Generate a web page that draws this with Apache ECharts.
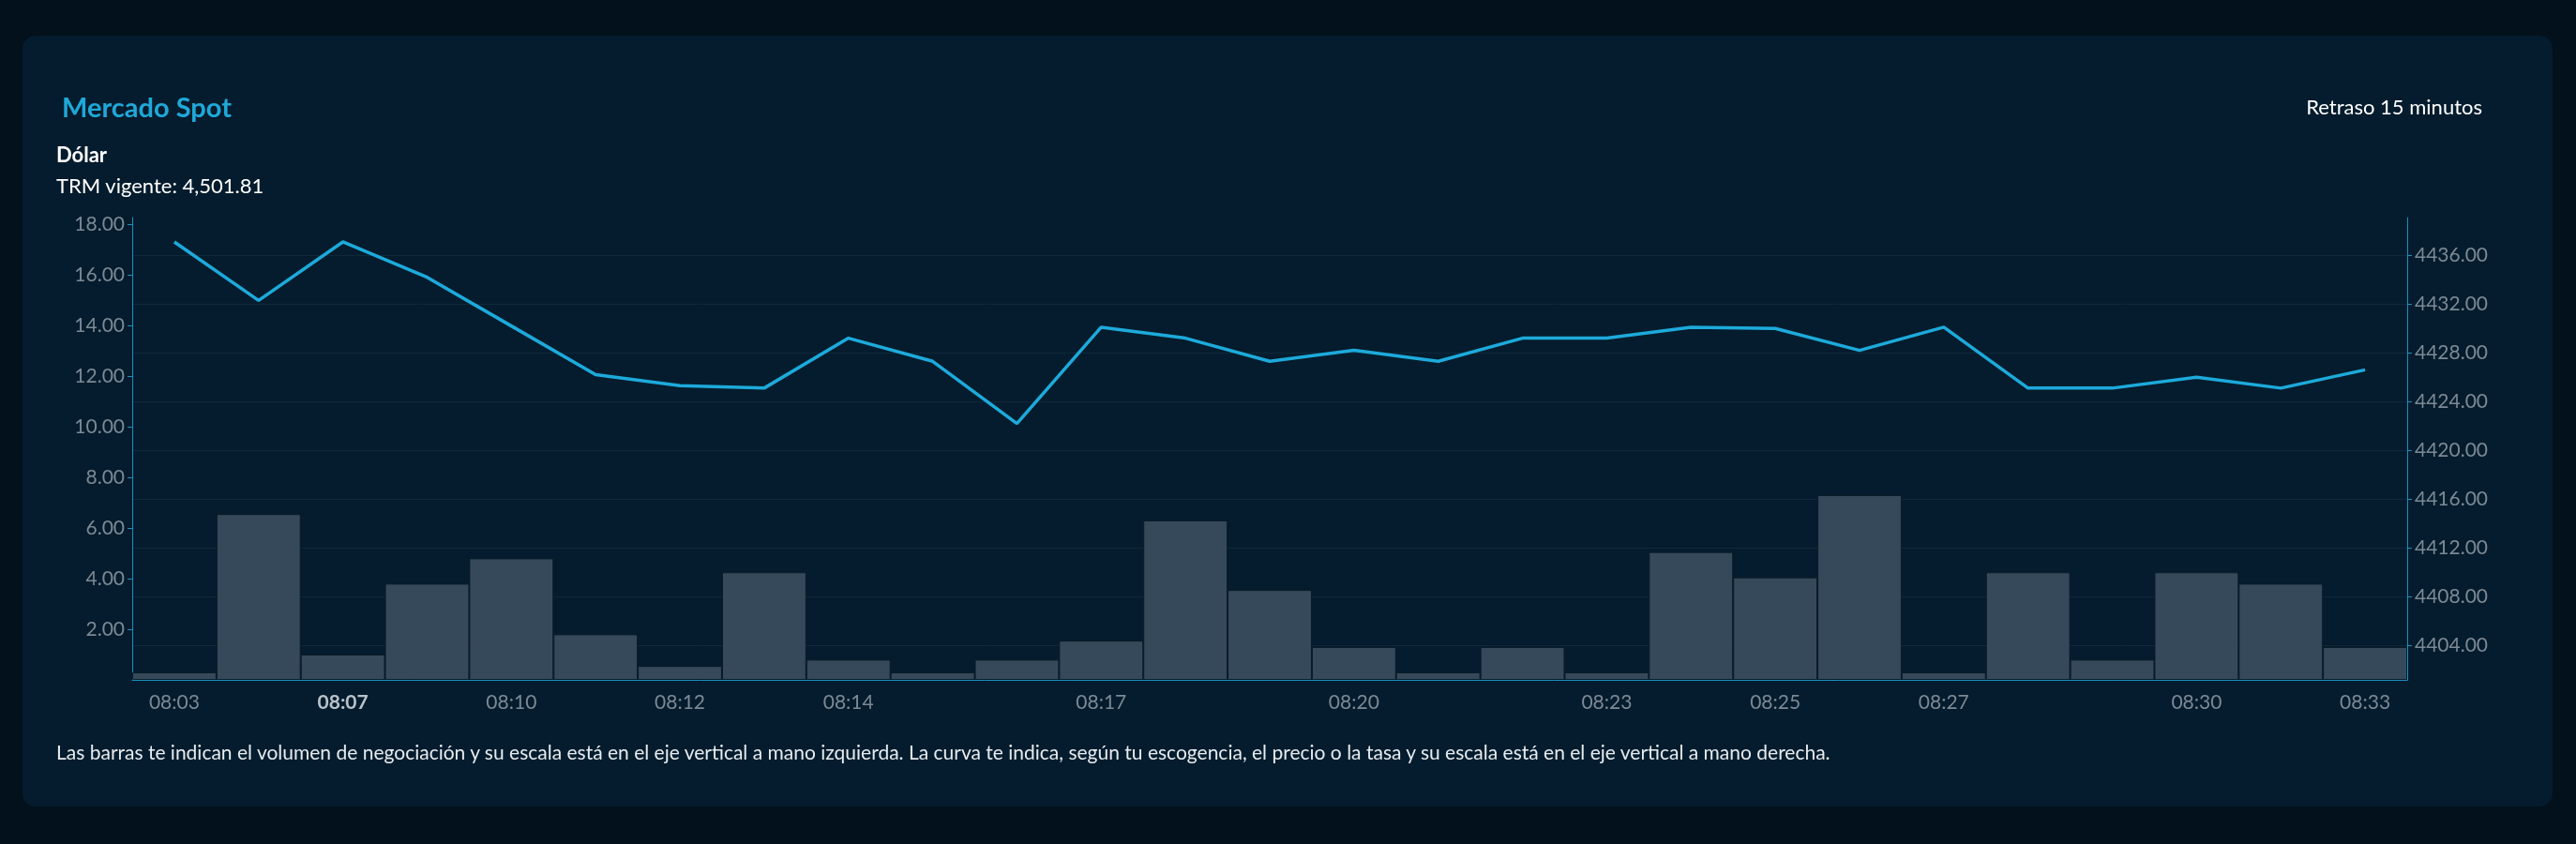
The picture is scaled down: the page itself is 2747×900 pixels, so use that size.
<!DOCTYPE html>
<html><head><meta charset="utf-8">
<script src="https://cdn.jsdelivr.net/npm/echarts@6/dist/echarts.min.js"></script>
<style>
html,body{margin:0;padding:0;background:#02111b;width:2747px;height:900px;overflow:hidden;font-family:Lato,"Noto Sans",sans-serif;}
#card{position:absolute;left:24px;top:38px;width:2698px;height:822px;background:#041c2d;border-radius:14px;}
#chart{position:absolute;left:0;top:0;width:2747px;height:900px;}
.t{position:absolute;white-space:nowrap;}
</style></head><body>
<div id="card"></div>
<div id="chart"></div>
<div class="t" style="left:66px;top:96px;font-size:29px;font-weight:700;color:#1fa8d8;">Mercado Spot</div>
<div class="t" style="right:100px;top:100px;font-size:22px;color:#ffffff;">Retraso 15 minutos</div>
<div class="t" style="left:60px;top:151px;font-size:22px;font-weight:700;color:#ffffff;">Dólar</div>
<div class="t" style="left:60px;top:184px;font-size:22px;color:#ffffff;">TRM vigente: 4,501.81</div>
<div class="t" style="left:60px;top:789px;font-size:21px;color:#e6ebef;">Las barras te indican el volumen de negociación y su escala está en el eje vertical a mano izquierda. La curva te indica, según tu escogencia, el precio o la tasa y su escala está en el eje vertical a mano derecha.</div>
<script>
const categories = ['08:03','08:05','08:07','08:08','08:10','08:11','08:12','08:13','08:14','08:15','08:16','08:17','08:18','08:19','08:20','08:21','08:22','08:23','08:24','08:25','08:26','08:27','08:28','08:29','08:30','08:32','08:33'];
const shownLabels = [0,2,4,6,8,11,14,17,19,21,24,26];
const volume = [0.3,6.55,1.0,3.8,4.8,1.8,0.55,4.25,0.8,0.3,0.8,1.55,6.3,3.55,1.3,0.3,1.3,0.3,5.05,4.05,7.3,0.3,4.25,0.8,4.25,3.8,1.3];
const price = [4437.1,4432.3,4437.1,4434.2,4430.2,4426.2,4425.3,4425.1,4429.2,4427.3,4422.2,4430.1,4429.2,4427.3,4428.2,4427.3,4429.2,4429.2,4430.1,4430.0,4428.2,4430.1,4425.1,4425.1,4426.0,4425.1,4426.6];
const rightTicks = [4404,4408,4412,4416,4420,4424,4428,4432,4436];

const chart = echarts.init(document.getElementById('chart'));
const axisCol = '#1a8fbf', lblCol = '#7c8995';
chart.setOption({
  animation:false,
  grid:{left:141,right:180,top:232,bottom:175},
  xAxis:{type:'category',data:categories,
    axisLine:{lineStyle:{color:axisCol}},
    axisTick:{alignWithLabel:true,interval:(i)=>shownLabels.includes(i),lineStyle:{color:axisCol}},
    axisLabel:{interval:(i)=>shownLabels.includes(i),color:lblCol,fontSize:21,margin:14,fontFamily:'Lato',
      formatter:(v,i)=> i===2 ? '{b|'+v+'}' : v,
      rich:{b:{fontWeight:'bold',color:'#b9c2ca',fontSize:21,fontFamily:'Lato'}}}
  },
  yAxis:[
    {type:'value',min:0,max:18.26,interval:2,position:'left',
      axisLine:{show:true,lineStyle:{color:axisCol}},
      axisTick:{show:true,lineStyle:{color:axisCol}},
      splitLine:{show:false},
      axisLabel:{color:lblCol,fontSize:21,fontFamily:'Lato',showMinLabel:false,showMaxLabel:false,
        formatter:(v)=> v===0?'':v.toFixed(2)}},
    {type:'value',min:4401.15,max:4439.1,position:'right',
      axisLine:{show:true,lineStyle:{color:axisCol}},
      axisTick:{show:true,customValues:rightTicks,lineStyle:{color:axisCol}},
      splitLine:{show:true,customValues:rightTicks,lineStyle:{color:'#10293a'}},
      axisLabel:{customValues:rightTicks,color:lblCol,fontSize:21,fontFamily:'Lato',formatter:(v)=>v.toFixed(2)}}
  ],
  series:[
    {type:'bar',data:volume,yAxisIndex:0,barCategoryGap:'0%',
      itemStyle:{color:'#36495a',borderColor:'#0b1c29',borderWidth:1}},
    {type:'line',data:price,yAxisIndex:1,symbol:'none',
      lineStyle:{color:'#1daadb',width:3.5}}
  ]
});
</script></body></html>
